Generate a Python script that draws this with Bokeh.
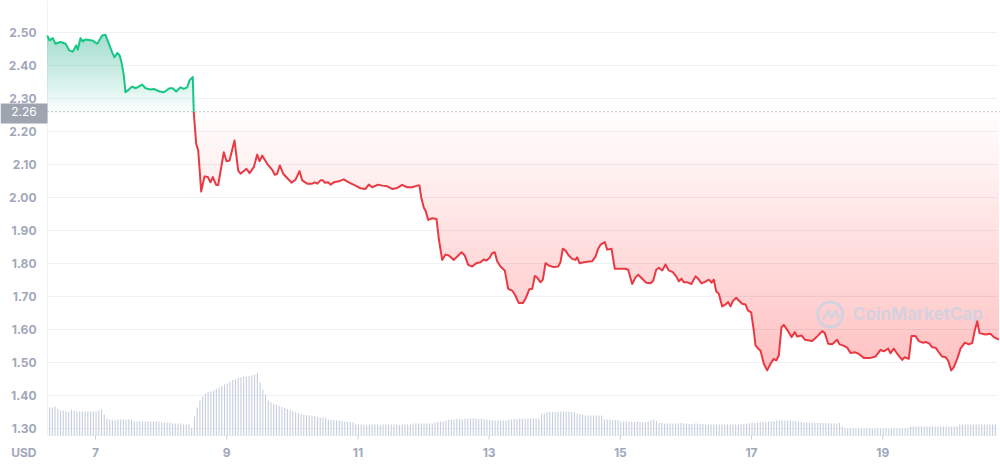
import numpy as np
from bokeh.plotting import figure
from bokeh.models import Range1d
from bokeh.embed import file_html
from bokeh.resources import INLINE
from bokeh.core.properties import value

# ---------------- data ----------------
days = [6.264, 6.299, 6.349, 6.390, 6.466, 6.543, 6.604, 6.654, 6.706, 6.730,
        6.771, 6.806, 6.848, 6.950, 7.026, 7.102, 7.152, 7.203, 7.255, 7.290,
        7.331, 7.366, 7.396, 7.431, 7.457, 7.508, 7.559, 7.610, 7.712, 7.762,
        7.838, 7.889, 7.965, 8.041, 8.128, 8.178, 8.230, 8.296, 8.346, 8.398,
        8.433, 8.483, 8.498, 8.535, 8.566, 8.590, 8.611, 8.662, 8.712, 8.753,
        8.788, 8.840, 8.870, 8.956, 8.997, 9.043, 9.119, 9.175,
        9.210, 9.302, 9.348, 9.413, 9.465, 9.500, 9.541, 9.617, 9.694, 9.733,
        9.770, 9.809, 9.861, 9.907, 9.988, 10.049, 10.110, 10.151, 10.227, 10.303,
        10.343, 10.380, 10.430, 10.465, 10.495, 10.547, 10.582, 10.633, 10.709, 10.785,
        10.861, 10.963, 11.040, 11.116, 11.166, 11.218, 11.309, 11.370, 11.447, 11.523,
        11.599, 11.675, 11.752, 11.828, 11.904, 11.939, 11.965, 12.005,
        12.030, 12.072, 12.133, 12.198, 12.233, 12.285, 12.335, 12.386, 12.462, 12.514,
        12.579, 12.630, 12.681, 12.742, 12.803, 12.869, 12.919, 12.960, 13.006, 13.047,
        13.087, 13.123, 13.174, 13.239, 13.291, 13.352, 13.392, 13.453, 13.514, 13.555,
        13.616, 13.657, 13.697, 13.733, 13.784, 13.819, 13.860, 13.910, 13.986, 14.053,
        14.088, 14.123, 14.165, 14.215, 14.267, 14.317, 14.343, 14.378, 14.444, 14.520,
        14.572, 14.622, 14.663, 14.698, 14.764, 14.800, 14.866, 14.916, 14.977,
        15.079, 15.120, 15.181, 15.232, 15.273, 15.334, 15.395, 15.460, 15.502, 15.547,
        15.587, 15.639, 15.689, 15.739, 15.800, 15.852, 15.892, 15.933, 15.968, 16.020,
        16.085, 16.146, 16.187, 16.238, 16.299, 16.349, 16.390, 16.425, 16.462, 16.502,
        16.553, 16.604, 16.645, 16.680, 16.715, 16.767, 16.806, 16.858, 16.909, 16.944,
        16.995, 17.035, 17.061, 17.102, 17.137, 17.188, 17.239, 17.290, 17.340, 17.377,
        17.416, 17.457, 17.492, 17.544, 17.610, 17.660, 17.697, 17.762, 17.813,
        17.925, 18.001, 18.078, 18.117, 18.169, 18.230, 18.306, 18.341, 18.392, 18.459,
        18.509, 18.575, 18.636, 18.712, 18.814, 18.890, 18.966, 19.017, 19.084, 19.119,
        19.169, 19.206, 19.256, 19.297, 19.337, 19.398, 19.439, 19.500, 19.550, 19.611,
        19.663, 19.713, 19.755, 19.805, 19.855, 19.907, 19.957, 19.998, 20.044, 20.084,
        20.136, 20.186, 20.252, 20.313, 20.364, 20.404, 20.441, 20.476, 20.567, 20.643,
        20.694, 20.770]

prices = [2.491, 2.476, 2.483, 2.466, 2.471, 2.466, 2.445, 2.442, 2.461, 2.448,
          2.483, 2.473, 2.479, 2.476, 2.466, 2.491, 2.493, 2.466, 2.440, 2.425,
          2.438, 2.432, 2.410, 2.370, 2.319, 2.327, 2.336, 2.331, 2.342, 2.331,
          2.327, 2.329, 2.322, 2.319, 2.331, 2.331, 2.321, 2.334, 2.329, 2.334,
          2.355, 2.365, 2.257, 2.163, 2.142, 2.077, 2.018, 2.064, 2.062, 2.046,
          2.062, 2.038, 2.038, 2.137, 2.110, 2.112, 2.173, 2.082,
          2.072, 2.087, 2.074, 2.092, 2.130, 2.110, 2.127, 2.102, 2.084, 2.069,
          2.072, 2.097, 2.072, 2.062, 2.045, 2.054, 2.080, 2.052, 2.042, 2.042,
          2.046, 2.042, 2.052, 2.052, 2.045, 2.046, 2.039, 2.046, 2.049, 2.055,
          2.046, 2.036, 2.028, 2.026, 2.039, 2.031, 2.039, 2.036, 2.034, 2.026,
          2.029, 2.038, 2.031, 2.031, 2.036, 2.036, 2.001, 1.969,
          1.961, 1.932, 1.937, 1.935, 1.875, 1.811, 1.827, 1.824, 1.811, 1.821,
          1.834, 1.824, 1.796, 1.791, 1.801, 1.804, 1.812, 1.809, 1.817, 1.831,
          1.834, 1.807, 1.791, 1.779, 1.723, 1.718, 1.706, 1.680, 1.680, 1.693,
          1.723, 1.723, 1.762, 1.757, 1.743, 1.751, 1.801, 1.794, 1.789, 1.791,
          1.804, 1.845, 1.839, 1.824, 1.814, 1.811, 1.819, 1.801, 1.804, 1.806,
          1.807, 1.821, 1.845, 1.857, 1.865, 1.842, 1.845, 1.784, 1.784,
          1.784, 1.781, 1.738, 1.758, 1.766, 1.754, 1.742, 1.740, 1.748, 1.781,
          1.787, 1.779, 1.797, 1.779, 1.774, 1.761, 1.746, 1.754, 1.743, 1.743,
          1.738, 1.761, 1.754, 1.740, 1.745, 1.751, 1.742, 1.751, 1.716, 1.708,
          1.670, 1.676, 1.683, 1.670, 1.686, 1.696, 1.688, 1.678, 1.676, 1.658,
          1.652, 1.597, 1.552, 1.542, 1.536, 1.496, 1.476, 1.496, 1.511, 1.506,
          1.521, 1.607, 1.614, 1.599, 1.577, 1.592, 1.579, 1.582, 1.569,
          1.565, 1.579, 1.595, 1.589, 1.557, 1.555, 1.569, 1.555, 1.552, 1.545,
          1.529, 1.531, 1.526, 1.514, 1.514, 1.518, 1.538, 1.534, 1.542, 1.528,
          1.542, 1.531, 1.518, 1.508, 1.516, 1.511, 1.580, 1.580, 1.565, 1.560,
          1.562, 1.557, 1.546, 1.545, 1.531, 1.518, 1.516, 1.506, 1.476, 1.486,
          1.511, 1.542, 1.560, 1.555, 1.559, 1.597, 1.625, 1.589, 1.585, 1.587,
          1.577, 1.569]

# hourly volume bars (relative units), first bar at day 6.30
vol_start_day = 6.30
volumes = [28, 28, 29, 27, 25, 25, 24, 24, 26, 25,
           24, 24, 24, 24, 24, 24, 24, 24, 25, 26,
           21, 17, 16, 15, 15, 16, 16, 16, 16, 16,
           16, 14, 14, 14, 14, 14, 14, 14, 14, 14,
           14, 13, 13, 13, 13, 12, 12, 12, 12, 11,
           11, 11, 8, 19, 28, 35, 39, 42, 43.5, 44,
           45, 46.5, 48, 49.5, 51, 52, 53.5, 55.5, 56, 57.5,
           58.3, 59, 59, 59.5, 60, 61, 62.7, 53, 46, 41,
           35, 33, 31.7, 30.7, 29.5, 28.5, 27.5, 26.5, 25.5, 24.5,
           23.3, 22.3, 21.7, 20.5, 20.5, 20, 20, 19.5, 18.5, 18,
           18, 17.5, 16, 15.5, 15.5, 15, 15, 14.5, 14, 13.7,
           13.5, 13, 11.5, 11, 11, 11, 10.5, 11, 11, 11,
           11, 10.5, 11, 11, 11, 11, 11, 11, 10.5, 11,
           11, 11, 11, 12, 12, 12, 12, 12, 12, 12,
           12, 13, 13.5, 14, 14, 15, 15.5, 16, 16, 16.5,
           16.5, 16, 17, 17, 17, 17, 17, 16.5, 17, 16,
           16, 15.5, 15, 15, 15, 15, 15, 15, 16, 16,
           16.5, 16.5, 17, 16.7, 16.7, 16.7, 17, 17, 17, 17,
           21.7, 22, 23.3, 23.5, 23.5, 23.5, 24, 24, 24, 24,
           24, 23.5, 23.5, 22, 21.5, 21, 20, 20, 20, 20,
           20, 20, 20, 16, 16, 16, 15.5, 15.5, 15.5, 14,
           14, 14, 13.5, 13.5, 13.5, 14, 13.5, 13.5, 13.5, 14,
           15, 16, 14.5, 12.5, 12.5, 12, 12, 12, 12, 12,
           12, 12.5, 12, 12, 11.5, 11.5, 12, 12, 11.5, 11.5,
           11, 11, 11, 11, 11, 11, 11, 11, 11, 11,
           11, 11, 11, 11.5, 11.5, 12, 12, 12.5, 12.5, 13,
           13, 13.5, 13.5, 14, 14, 14.5, 15, 15, 15, 15,
           15, 15, 14.5, 14.5, 14, 13.5, 13, 13, 13, 12.5,
           12.5, 12.5, 12.5, 12.5, 12.5, 12.5, 12, 12, 12, 12.5,
           9, 7.5, 7, 7, 7, 7, 6.5, 7, 7, 7,
           7, 6.5, 7, 7, 7, 7, 7, 6.5, 7, 7,
           7, 7, 7, 7, 7, 9, 9, 9, 9, 9,
           9, 9, 9, 9, 9, 9, 9, 9, 9, 9,
           9, 9, 9, 11, 11, 11, 11, 11, 11, 11,
           11, 11, 11, 11, 11, 11, 11]

y_ticks = [1.30, 1.40, 1.50, 1.60, 1.70, 1.80, 1.90, 2.00, 2.10, 2.20, 2.30, 2.40, 2.50]
x_ticks = [7, 9, 11, 13, 15, 17, 19]
baseline = 2.26
currency = "USD"
watermark = "CoinMarketCap"

# ---------------- layout (canvas = frame) ----------------
X0, X1 = 5.5518, 20.7957          # canvas left/right in days
Y0, Y1 = 1.19091, 2.59697         # canvas bottom/top in price
PLOT_L, PLOT_R = 6.2683, 20.75    # plotting area left/right
AXIS_Y = 1.27879                  # bottom axis line
TICK_Y = 1.26667                  # tick mark end
XLAB_Y = 1.22727                  # x tick label centre
YLAB_X = 6.1006                   # y label right edge
TAG_L, TAG_R = X0, PLOT_L
TAG_T, TAG_B = 2.28485, 2.22424
WM_X, WM_Y = 18.20, 1.6455        # watermark logo centre
WM_ZX = [18.102, 18.169, 18.220, 18.280, 18.331]
WM_ZY = [1.6324, 1.6576, 1.6340, 1.6576, 1.6373]

GREEN = "#16c784"
RED = "#ea3943"
LABEL_C = "#a1a7bb"
GRID_C = "#eff2f5"
WM_C = "#c9d2e3"
FONT = value("Inter")

t = np.array(days)
pr = np.array(prices)

# insert baseline crossing points so colours split exactly at 2.26
tt, pp = [t[0]], [pr[0]]
for i in range(1, len(t)):
    a, b = pr[i - 1], pr[i]
    if (a - baseline) * (b - baseline) < 0:
        tc = t[i - 1] + (baseline - a) * (t[i] - t[i - 1]) / (b - a)
        tt.append(tc)
        pp.append(baseline)
    tt.append(t[i])
    pp.append(pr[i])
tt = np.array(tt)
pp = np.array(pp)

p = figure(width=1000, height=464, output_backend="svg", toolbar_location=None,
           x_range=Range1d(X0, X1), y_range=Range1d(Y0, Y1),
           min_border=0)
p.outline_line_color = None
p.background_fill_color = "white"
p.border_fill_color = "white"
p.axis.visible = False
p.grid.visible = False

# volume range: 0 sits on the bottom axis line
p.extra_y_ranges = {"vol": Range1d(-29, 435)}

# horizontal grid lines
n = len(y_ticks)
p.segment(x0=[PLOT_L] * n, y0=y_ticks, x1=[PLOT_R] * n, y1=y_ticks,
          line_color=GRID_C, line_width=1)
# left axis line and bottom axis line
p.segment(x0=[PLOT_L], y0=[AXIS_Y], x1=[PLOT_L], y1=[Y1], line_color=GRID_C, line_width=1)
p.segment(x0=[PLOT_L], y0=[AXIS_Y], x1=[PLOT_R], y1=[AXIS_Y], line_color=GRID_C, line_width=1)

# volume bars
vol_t = vol_start_day + np.arange(len(volumes)) / 24.0
p.vbar(x=vol_t, top=volumes, bottom=0, width=0.017, y_range_name="vol",
       fill_color="#c6cedd", line_color=None)

# x ticks
m = len(x_ticks)
p.segment(x0=x_ticks, y0=[AXIS_Y] * m, x1=x_ticks, y1=[TICK_Y] * m,
          line_color="#c9d0dc", line_width=1)

# gradient fills (stacked translucent bands)
n_red = 32
for L in np.linspace(baseline, 1.46, n_red):
    p.varea(x=tt, y1=np.minimum(pp, L), y2=np.full_like(pp, L),
            fill_color=RED, fill_alpha=0.0125)
n_green = 18
for L in np.linspace(baseline, 2.50, n_green):
    p.varea(x=tt, y1=np.full_like(pp, L), y2=np.maximum(pp, L),
            fill_color=GREEN, fill_alpha=0.029)

# baseline dotted line
p.segment(x0=[PLOT_L], y0=[baseline], x1=[X1], y1=[baseline],
          line_color="#7d8494", line_width=1, line_dash="1 3")

# price line
gmask = pp >= baseline - 1e-9
rmask = pp <= baseline + 1e-9
p.line(tt[rmask], pp[rmask], line_color=RED, line_width=2, line_join="round")
p.line(tt[gmask], pp[gmask], line_color=GREEN, line_width=2, line_join="round")

# watermark
p.scatter(x=[WM_X], y=[WM_Y], marker="circle", size=25, fill_color=None,
          line_color=WM_C, line_width=3, alpha=0.8)
p.line(WM_ZX, WM_ZY, line_color=WM_C, line_width=2.5, line_alpha=0.8,
       line_join="round", line_cap="round")
p.text(x=[18.545], y=[WM_Y], text=[watermark], text_font=FONT,
       text_font_size="17px", text_font_style="bold", text_color=WM_C,
       text_alpha=0.8, text_baseline="middle", text_align="left")

# y tick labels
p.text(x=[YLAB_X] * n, y=y_ticks, text=[f"{v:.2f}" for v in y_ticks],
       text_font=FONT, text_font_size="12px", text_font_style="bold",
       text_color=LABEL_C, text_align="right", text_baseline="middle")

# x tick labels
p.text(x=x_ticks, y=[XLAB_Y] * m, text=[str(v) for v in x_ticks],
       text_font=FONT, text_font_size="12px", text_font_style="bold",
       text_color=LABEL_C, text_align="center", text_baseline="middle")

# currency label
p.text(x=[YLAB_X], y=[XLAB_Y], text=[currency], text_font=FONT,
       text_font_size="12px", text_font_style="bold", text_color=LABEL_C,
       text_align="right", text_baseline="middle")

# baseline value tag
p.quad(left=[TAG_L], right=[TAG_R], top=[TAG_T], bottom=[TAG_B],
       fill_color="#9ea4b0", line_color=None)
p.text(x=[(TAG_L + TAG_R) / 2], y=[baseline], text=[f"{baseline:.2f}"],
       text_font=FONT, text_font_size="12px", text_color="white",
       text_align="center", text_baseline="middle")

open("out.html", "w").write(file_html(p, INLINE))
